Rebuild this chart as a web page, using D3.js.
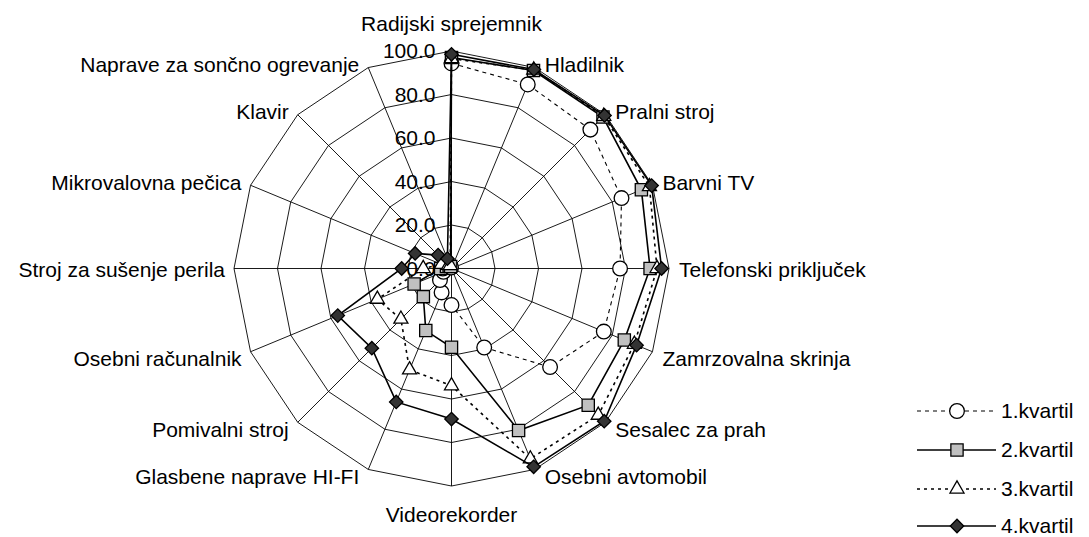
<!DOCTYPE html>
<html>
<head>
<meta charset="utf-8">
<script src="https://cdn.jsdelivr.net/npm/d3@7"></script>
<style>
  body { margin: 0; background: #fff; }
  text { font-family: "Liberation Sans", Arial, sans-serif; fill: #000; }
</style>
</head>
<body>
<div id="graph"></div>
<script>
// categories, clockwise from the top
var categories = ["Radijski sprejemnik", "Hladilnik", "Pralni stroj", "Barvni TV",
  "Telefonski priključek", "Zamrzovalna skrinja", "Sesalec za prah", "Osebni avtomobil",
  "Videorekorder", "Glasbene naprave HI-FI", "Pomivalni stroj", "Osebni računalnik",
  "Stroj za sušenje perila", "Mikrovalovna pečica", "Klavir", "Naprave za sončno ogrevanje"]

// series values (%)
var q1 = [94.3, 91.6, 90.3, 84.6, 77.5, 75.8, 64.1, 39.3, 16.8, 11.9, 7.5, 4, 4, 2, 1, 0.5]
var q2 = [97, 98.5, 98.5, 94.5, 91.3, 86, 88.9, 80.6, 36.2, 30.9, 18.3, 18.6, 5, 2.5, 1.5, 1]
var q3 = [96.5, 98.8, 99, 98.5, 94.5, 91, 95.4, 94.7, 53.9, 50.4, 32.9, 36.9, 13, 5, 2, 1.5]
var q4 = [98.5, 99, 99.5, 99.6, 96.6, 92.1, 99.3, 98.7, 69.2, 66.4, 51.8, 56.6, 22.9, 18.1, 8.7, 4.9]

var seriesNames = ["1.kvartil", "2.kvartil", "3.kvartil", "4.kvartil"]
var ticks = [0, 20, 40, 60, 80, 100]

var width = 1089, height = 537
var cx = 451.5, cy = 268.5, R = 217.5

var svg = d3.select("#graph").append("svg")
  .attr("width", width).attr("height", height)

var r = d3.scaleLinear().domain([0, 100]).range([0, R])
var angle = d3.scaleLinear().domain([0, categories.length]).range([0, 2 * Math.PI])

var g = svg.append("g").attr("transform", "translate(" + cx + "," + cy + ")")

function px(i, v) { return r(v) * Math.sin(angle(i)) }
function py(i, v) { return -r(v) * Math.cos(angle(i)) }

// grid rings
g.selectAll(".ring")
  .data(ticks.slice(1))
  .enter().append("polygon")
  .attr("points", function(t) {
    return categories.map(function(c, i) { return px(i, t) + "," + py(i, t) }).join(" ")
  })
  .attr("fill", "none").attr("stroke", "#000").attr("stroke-width", 0.9)

// spokes
g.selectAll(".spoke")
  .data(categories)
  .enter().append("line")
  .attr("x1", 0).attr("y1", 0)
  .attr("x2", function(d, i) { return px(i, 100) })
  .attr("y2", function(d, i) { return py(i, 100) })
  .attr("stroke", "#000").attr("stroke-width", 0.9)

// tick labels
g.selectAll(".tick")
  .data(ticks)
  .enter().append("text")
  .attr("x", -16)
  .attr("y", function(t) { return -r(t) })
  .attr("dy", "0.35em")
  .attr("text-anchor", "end")
  .style("font-size", "21px")
  .text(function(t) { return t.toFixed(1) })

// category labels
g.selectAll(".cat")
  .data(categories)
  .enter().append("text")
  .attr("x", function(d, i) {
    var s = Math.sin(angle(i))
    if (Math.abs(s) < 0.01) return 0
    return px(i, 100) + (s > 0 ? 10 : -9)
  })
  .attr("y", function(d, i) {
    var c = Math.cos(angle(i)), s = Math.sin(angle(i))
    if (Math.abs(s) < 0.01) return py(i, 100) + (c > 0 ? -27 : 29)
    if (Math.abs(c) < 0.01) return py(i, 100) + 1
    return py(i, 100) + (c > 0 ? -3 : 7)
  })
  .attr("dy", "0.35em")
  .attr("text-anchor", function(d, i) {
    var s = Math.sin(angle(i))
    return Math.abs(s) < 0.01 ? "middle" : (s > 0 ? "start" : "end")
  })
  .style("font-size", "21px")
  .text(function(d) { return d })

// series styles
var styles = [
  {values: q1, dash: "4,4", sw: 1.1, symbol: d3.symbolCircle, size: 170, fill: "#fff", rot: 0},
  {values: q2, dash: null, sw: 1.6, symbol: d3.symbolSquare, size: 150, fill: "#c0c0c0", rot: 0},
  {values: q3, dash: "3,4", sw: 1.6, symbol: d3.symbolTriangle, size: 85, fill: "#fff", rot: 0},
  {values: q4, dash: null, sw: 1.6, symbol: d3.symbolSquare, size: 90, fill: "#333", rot: 45}
]

var line = d3.lineRadial()
  .angle(function(d, i) { return angle(i) })
  .radius(function(d) { return r(d) })
  .curve(d3.curveLinearClosed)

styles.forEach(function(s) {
  g.append("path")
    .attr("d", line(s.values))
    .attr("fill", "none")
    .attr("stroke", "#000")
    .attr("stroke-width", s.sw)
    .attr("stroke-dasharray", s.dash)

  g.selectAll(null)
    .data(s.values)
    .enter().append("path")
    .attr("d", d3.symbol().type(s.symbol).size(s.size))
    .attr("transform", function(d, i) {
      return "translate(" + px(i, d) + "," + py(i, d) + ") rotate(" + s.rot + ")"
    })
    .attr("fill", s.fill)
    .attr("stroke", "#000")
    .attr("stroke-width", 1.3)
})

// legend
var legend = svg.append("g")
var rowY = [411, 450, 489, 526]
styles.forEach(function(s, k) {
  var row = legend.append("g").attr("transform", "translate(0," + rowY[k] + ")")
  row.append("line")
    .attr("x1", 917).attr("x2", 996).attr("y1", 0).attr("y2", 0)
    .attr("stroke", "#000")
    .attr("stroke-width", s.sw)
    .attr("stroke-dasharray", s.dash)
  row.append("path")
    .attr("d", d3.symbol().type(s.symbol).size(s.size))
    .attr("transform", "translate(957,0) rotate(" + s.rot + ")")
    .attr("fill", s.fill)
    .attr("stroke", "#000")
    .attr("stroke-width", 1.3)
  row.append("text")
    .attr("x", 1001).attr("y", 0).attr("dy", "0.35em")
    .style("font-size", "21px")
    .text(seriesNames[k])
})
</script>
</body>
</html>
